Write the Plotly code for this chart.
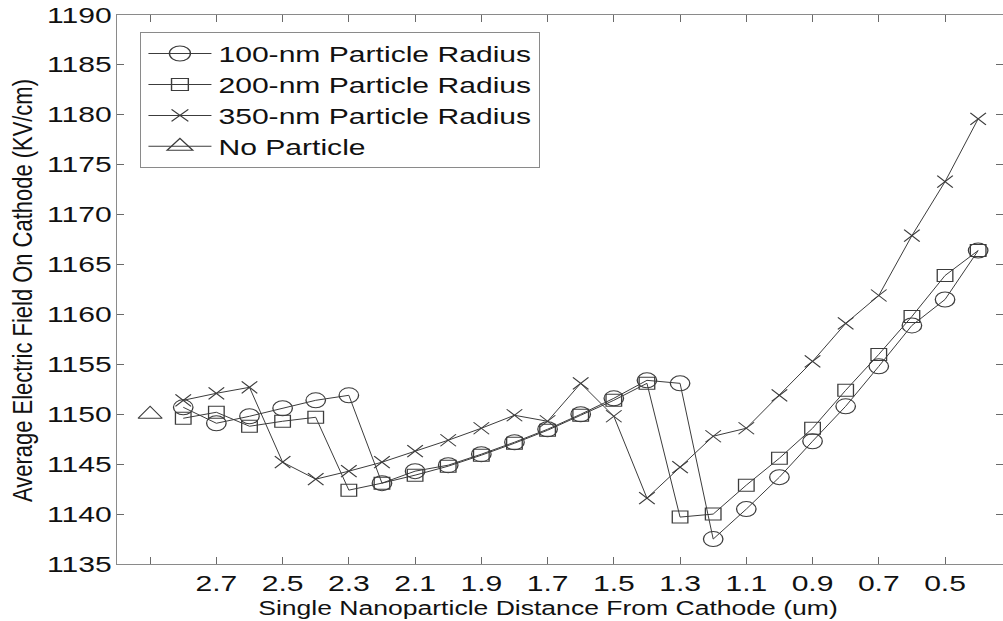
import plotly.graph_objects as go

x_pos = [2.8, 2.7, 2.6, 2.5, 2.4, 2.3, 2.2, 2.1, 2.0, 1.9, 1.8, 1.7, 1.6,
         1.5, 1.4, 1.3, 1.2, 1.1, 1.0, 0.9, 0.8, 0.7, 0.6, 0.5, 0.4]

r100 = [1150.7, 1149.1, 1149.8, 1150.6, 1151.4, 1151.9, 1143.1, 1144.3, 1144.9,
        1146.0, 1147.2, 1148.5, 1150.0, 1151.6, 1153.4, 1153.1, 1137.5, 1140.5,
        1143.7, 1147.3, 1150.8, 1154.8, 1158.9, 1161.5, 1166.4]

r200 = [1149.6, 1150.2, 1148.8, 1149.3, 1149.7, 1142.4, 1143.1, 1143.9, 1144.8,
        1145.9, 1147.1, 1148.4, 1149.9, 1151.4, 1153.1, 1139.7, 1140.0, 1142.9,
        1145.6, 1148.6, 1152.4, 1156.0, 1159.8, 1163.9, 1166.4]

r350 = [1151.4, 1152.1, 1152.7, 1145.2, 1143.5, 1144.3, 1145.2, 1146.3, 1147.4,
        1148.6, 1149.9, 1149.3, 1153.1, 1149.8, 1141.6, 1144.7, 1147.8, 1148.6,
        1151.9, 1155.3, 1159.1, 1161.9, 1167.9, 1173.3, 1179.6]

no_particle_x = [2.9]
no_particle_y = [1150.0]

x_tickvals = [2.9, 2.7, 2.5, 2.3, 2.1, 1.9, 1.7, 1.5, 1.3, 1.1, 0.9, 0.7, 0.5]
x_ticktext = ["", "2.7", "2.5", "2.3", "2.1", "1.9", "1.7", "1.5", "1.3", "1.1", "0.9", "0.7", "0.5"]
y_tickvals = [1135, 1140, 1145, 1150, 1155, 1160, 1165, 1170, 1175, 1180, 1185, 1190]

LINE = "#3c3c3c"
FONT = "Liberation Sans"

fig = go.Figure()

def add(name, xs, ys, symbol, size):
    fig.add_trace(go.Scatter(
        x=xs, y=ys, name=name, mode="lines+markers",
        line=dict(color=LINE, width=1),
        marker=dict(symbol=symbol, size=size, color=LINE,
                    line=dict(color=LINE, width=1)),
    ))

add("100-nm Particle Radius", x_pos, r100, "circle-open", 15)
add("200-nm Particle Radius", x_pos, r200, "square-open", 12)
add("350-nm Particle Radius", x_pos, r350, "x-thin-open", 12)
add("No Particle", no_particle_x, no_particle_y, "triangle-up-open", 16)

axis_common = dict(
    showline=True, linecolor="#8a8a8a", linewidth=1, mirror="ticks",
    ticks="inside", ticklen=7, tickcolor="#6a6a6a", tickwidth=1,
    showgrid=False, zeroline=False,
    tickfont=dict(family=FONT, size=21.5, color="#111111"),
)

fig.update_layout(
    width=1003, height=621,
    margin=dict(l=117, r=0, t=15, b=57),
    paper_bgcolor="white", plot_bgcolor="white",
    font=dict(family=FONT, color="#111111"),
    xaxis=dict(range=[3.0, 0.325], tickvals=x_tickvals, ticktext=x_ticktext,
               title=dict(text="Single Nanoparticle Distance From Cathode (um)",
                          font=dict(family=FONT, size=21), standoff=4),
               **axis_common),
    yaxis=dict(range=[1135, 1190], tickvals=y_tickvals,
               title=dict(text="Average Electric Field On Cathode (KV/cm)",
                          font=dict(family=FONT, size=21.5), standoff=26),
               **axis_common),
    legend=dict(x=0.026, y=0.969, xanchor="left", yanchor="top",
                bgcolor="white", bordercolor="#8a8a8a", borderwidth=1,
                font=dict(family=FONT, size=21.5, color="#111111"),
                tracegroupgap=0, itemwidth=45),
    showlegend=True,
)

# The reference image is horizontally stretched (~1.3x); reproduce that
# stretch on glyphs (text, marker symbols, legend) without moving anchors.
post = r"""
(function(){
  var gd = document.getElementById('{plot_id}');
  function apply(){
    var S_TICK = 1.40, S_MARK = 1.3, S_LEG = 1.4, S_THICK = 1.3;
    var svg = gd.querySelector('svg.main-svg');
    if (!svg) return;
    var R0 = svg.getBoundingClientRect();
    gd.querySelectorAll('.xtick text, .ytick text').forEach(function(t){
      if (t.getAttribute('data-str')) return;
      var tr = t.getAttribute('transform') || '';
      var x = parseFloat(t.getAttribute('x') || '0');
      t.setAttribute('transform', tr + ' translate(' + x + ',0) scale(' + S_TICK + ',1) translate(' + (-x) + ',0)');
      t.setAttribute('data-str', '1');
    });
    var xt = gd.querySelector('text.xtitle');
    if (xt && !xt.getAttribute('data-str')) {
      var tr0 = xt.getAttribute('transform') || '';
      var x = parseFloat(xt.getAttribute('x') || '0');
      var r = xt.getBoundingClientRect();
      var k = 580 / r.width;
      xt.setAttribute('transform', tr0 + ' translate(' + x + ',0) scale(' + k + ',1) translate(' + (-x) + ',0)');
      r = xt.getBoundingClientRect();
      var dx = (R0.left + 548) - (r.left + r.right) / 2;
      xt.setAttribute('transform', 'translate(' + dx + ',0) ' + xt.getAttribute('transform'));
      xt.setAttribute('data-str', '1');
    }
    var yt = gd.querySelector('text.ytitle');
    if (yt && !yt.getAttribute('data-str')) {
      var tr0 = yt.getAttribute('transform') || '';
      var x = parseFloat(yt.getAttribute('x') || '0');
      var y = parseFloat(yt.getAttribute('y') || '0');
      var r = yt.getBoundingClientRect();
      var k = 423 / Math.max(r.height, r.width);
      yt.setAttribute('transform', tr0 + ' translate(' + x + ',' + y + ') scale(' + k + ',' + S_THICK + ') translate(' + (-x) + ',' + (-y) + ')');
      r = yt.getBoundingClientRect();
      var dx = (R0.left + 6) - r.left;
      var dy = (R0.top + 290.5) - (r.top + r.bottom) / 2;
      yt.setAttribute('transform', 'translate(' + dx + ',' + dy + ') ' + yt.getAttribute('transform'));
      yt.setAttribute('data-str', '1');
    }
    gd.querySelectorAll('.cartesianlayer .scatterlayer path.point').forEach(function(p){
      if (p.getAttribute('data-str')) return;
      var tr = p.getAttribute('transform') || '';
      p.setAttribute('transform', tr + ' scale(' + S_MARK + ',1)');
      p.setAttribute('data-str', '1');
    });
    gd.querySelectorAll('g.legend').forEach(function(g){
      if (g.getAttribute('data-str')) return;
      var tr = g.getAttribute('transform') || '';
      g.setAttribute('transform', tr + ' scale(' + S_LEG + ',1)');
      g.setAttribute('data-str', '1');
    });
  }
  apply();
  gd.on && gd.on('plotly_afterplot', apply);
  setTimeout(apply, 200);
})();
"""

fig.write_html("out.html", post_script=post)
